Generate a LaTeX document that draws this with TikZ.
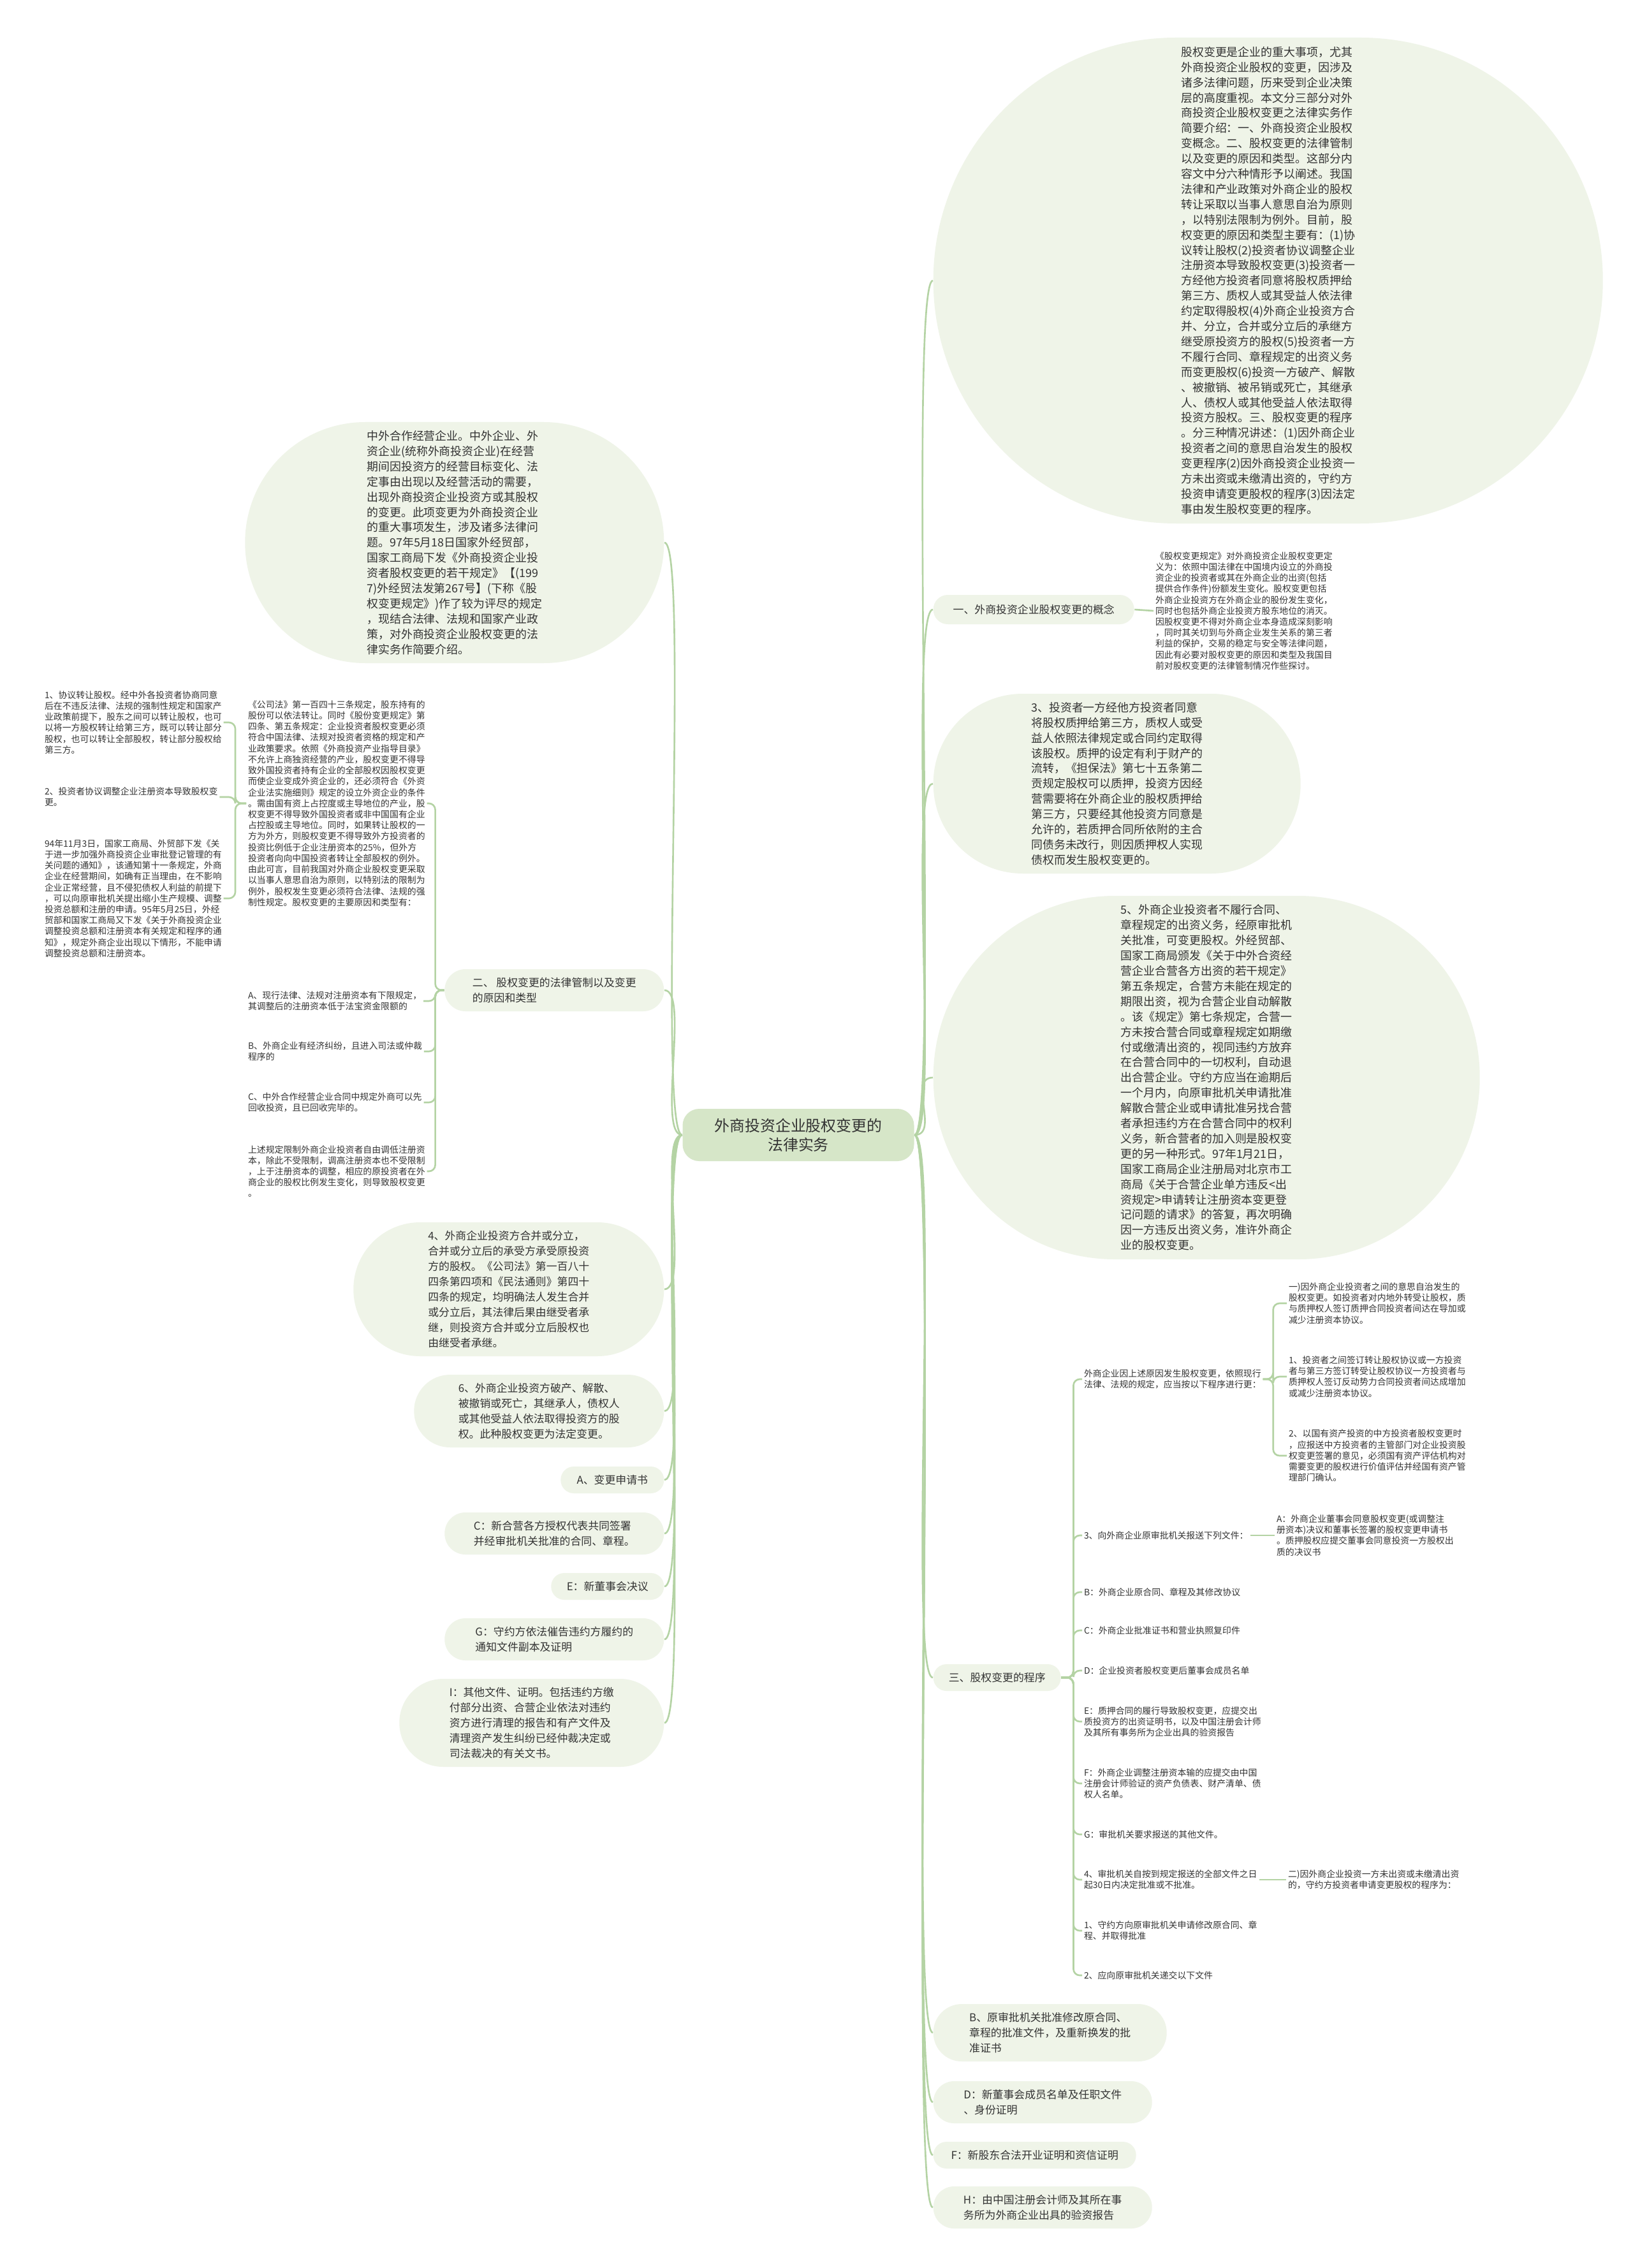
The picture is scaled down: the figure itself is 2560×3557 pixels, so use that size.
\documentclass[tikz,border=0pt]{standalone}
\usepackage{fontspec}
\setmainfont{Noto Sans CJK SC}
\usepackage{tikz}
\definecolor{bubfill}{HTML}{EFF4E8}
\definecolor{cenfill}{HTML}{D6E6C8}
\definecolor{linkc}{HTML}{B4D3A4}
\definecolor{txt}{HTML}{333333}
\pgfdeclarelayer{bg}
\pgfsetlayers{bg,main}

\begin{document}
\begin{tikzpicture}[x=0.1mm, y=-0.1mm,
        bub/.style 2 args={rectangle, fill=bubfill, text=txt, align=left, inner sep=0.5mm,
            minimum width=#1*0.1mm, minimum height=#2*0.1mm, rounded corners=#2*0.05mm-0.03mm,
            font=\fontsize{4.8pt}{6.8pt}\selectfont},
        bigbub/.style 2 args={bub={#1}{#2}, font=\fontsize{5.1pt}{6.8pt}\selectfont},
        note/.style={text=txt, align=left, inner sep=0pt, outer xsep=0.3mm,
            font=\fontsize{3.95pt}{4.9pt}\selectfont},
        link/.style={draw=linkc, line width=0.75pt}]
                \node[rectangle, rounded corners=2.6mm, fill=cenfill, text=txt, align=center,
                    minimum width=36.3mm, minimum height=8.2mm,
                    font=\fontsize{6.8pt}{8.6pt}\selectfont] (cen) at (1252,1780) {外商投资企业股权变更的\\法律实务};

                \node[bigbub={1050}{762}, anchor=west] (intro) at (1463,440) {股权变更是企业的重大事项，尤其\\外商投资企业股权的变更，因涉及\\诸多法律问题，历来受到企业决策\\层的高度重视。本文分三部分对外\\商投资企业股权变更之法律实务作\\简要介绍：一、外商投资企业股权\\变概念。二、股权变更的法律管制\\以及变更的原因和类型。这部分内\\容文中分六种情形予以阐述。我国\\法律和产业政策对外商企业的股权\\转让采取以当事人意思自治为原则\\，以特别法限制为例外。目前，股\\权变更的原因和类型主要有：(1)协\\议转让股权(2)投资者协议调整企业\\注册资本导致股权变更(3)投资者一\\方经他方投资者同意将股权质押给\\第三方、质权人或其受益人依法律\\约定取得股权(4)外商企业投资方合\\并、分立，合并或分立后的承继方\\继受原投资方的股权(5)投资者一方\\不履行合同、章程规定的出资义务\\而变更股权(6)投资一方破产、解散\\、被撤销、被吊销或死亡，其继承\\人、债权人或其他受益人依法取得\\投资方股权。三、股权变更的程序\\。分三种情况讲述：(1)因外商企业\\投资者之间的意思自治发生的股权\\变更程序(2)因外商投资企业投资一\\方未出资或未缴清出资的，守约方\\投资申请变更股权的程序(3)因法定\\事由发生股权变更的程序。};
                \node[bub={315}{46}, anchor=west] (b1) at (1463,956) {一、外商投资企业股权变更的概念};
                \node[note, anchor=west] (b1n) at (1809,958) {《股权变更规定》对外商投资企业股权变更定\\义为：依照中国法律在中国境内设立的外商投\\资企业的投资者或其在外商企业的出资(包括\\提供合作条件)份额发生变化。股权变更包括\\外商企业投资方在外商企业的股份发生变化，\\同时也包括外商企业投资方股东地位的消灭。\\因股权变更不得对外商企业本身造成深刻影响\\，同时其关切到与外商企业发生关系的第三者\\利益的保护，交易的稳定与安全等法律问题，\\因此有必要对股权变更的原因和类型及我国目\\前对股权变更的法律管制情况作些探讨。};
                \node[bigbub={576}{282}, anchor=west] (b3) at (1463,1229) {3、投资者一方经他方投资者同意\\将股权质押给第三方，质权人或受\\益人依照法律规定或合同约定取得\\该股权。质押的设定有利于财产的\\流转，《担保法》第七十五条第二\\贡规定股权可以质押，投资方因经\\营需要将在外商企业的股权质押给\\第三方，只要经其他投资方同意是\\允许的，若质押合同所依附的主合\\同债务未改行，则因质押权人实现\\债权而发生股权变更的。};
                \node[bigbub={857}{570}, anchor=west] (b5) at (1463,1690) {5、外商企业投资者不履行合同、\\章程规定的出资义务，经原审批机\\关批准，可变更股权。外经贸部、\\国家工商局颁发《关于中外合资经\\营企业合营各方出资的若干规定》\\第五条规定，合营方未能在规定的\\期限出资，视为合营企业自动解散\\。该《规定》第七条规定，合营一\\方未按合营合同或章程规定如期缴\\付或缴清出资的，视同违约方放弃\\在合营合同中的一切权利，自动退\\出合营企业。守约方应当在逾期后\\一个月内，向原审批机关申请批准\\解散合营企业或申请批准另找合营\\者承担违约方在合营合同中的权利\\义务，新合营者的加入则是股权变\\更的另一种形式。97年1月21日，\\国家工商局企业注册局对北京市工\\商局《关于合营企业单方违反<出\\资规定>申请转让注册资本变更登\\记问题的请求》的答复，再次明确\\因一方违反出资义务，准许外商企\\业的股权变更。};
                \node[bub={200}{42}, anchor=west] (s3) at (1463,2631) {三、股权变更的程序};
                \node[bub={366}{90}, anchor=west] (nb) at (1463,3188) {B、原审批机关批准修改原合同、\\章程的批准文件，及重新换发的批\\准证书};
                \node[bub={343}{66}, anchor=west] (nd) at (1463,3297) {D：新董事会成员名单及任职文件\\、身份证明};
                \node[bub={318}{42}, anchor=west] (nf) at (1463,3380) {F：新股东合法开业证明和资信证明};
                \node[bub={343}{66}, anchor=west] (nh) at (1463,3462) {H：由中国注册会计师及其所在事\\务所为外商企业出具的验资报告};

                \node[bigbub={657}{378}, anchor=east] (pre) at (1042,851) {中外合作经营企业。中外企业、外\\资企业(统称外商投资企业)在经营\\期间因投资方的经营目标变化、法\\定事由出现以及经营活动的需要，\\出现外商投资企业投资方或其股权\\的变更。此项变更为外商投资企业\\的重大事项发生，涉及诸多法律问\\题。97年5月18日国家外经贸部，\\国家工商局下发《外商投资企业投\\资者股权变更的若干规定》【(199\\7)外经贸法发第267号】(下称《股\\权变更规定》)作了较为评尽的规定\\，现结合法律、法规和国家产业政\\策，对外商投资企业股权变更的法\\律实务作简要介绍。};
                \node[bub={344}{66}, anchor=east] (s2) at (1042,1553) {二、 股权变更的法律管制以及变更\\的原因和类型};
                \node[bub={487}{210}, anchor=east] (n4) at (1042,2022) {4、外商企业投资方合并或分立，\\合并或分立后的承受方承受原投资\\方的股权。《公司法》第一百八十\\四条第四项和《民法通则》第四十\\四条的规定，均明确法人发生合并\\或分立后，其法律后果由继受者承\\继，则投资方合并或分立后股权也\\由继受者承继。};
                \node[bub={392}{114}, anchor=east] (n6) at (1042,2213) {6、外商企业投资方破产、解散、\\被撤销或死亡，其继承人，债权人\\或其他受益人依法取得投资方的股\\权。此种股权变更为法定变更。};
                \node[bub={162}{42}, anchor=east] (na) at (1042,2321) {A、变更申请书};
                \node[bub={344}{66}, anchor=east] (nc) at (1042,2405) {C：新合营各方授权代表共同签署\\并经审批机关批准的合同、章程。};
                \node[bub={177}{42}, anchor=east] (ne) at (1042,2488) {E：新董事会决议};
                \node[bub={344}{66}, anchor=east] (ng) at (1042,2571) {G：守约方依法催告违约方履约的\\通知文件副本及证明};
                \node[bub={415}{138}, anchor=east] (ni) at (1042,2702) {I：其他文件、证明。包括违约方缴\\付部分出资、合营企业依法对违约\\资方进行清理的报告和有产文件及\\清理资产发生纠纷已经仲裁决定或\\司法裁决的有关文书。};

                \node[note, anchor=west] (law) at (386,1260) {《公司法》第一百四十三条规定，股东持有的\\股份可以依法转让。同时《股份变更规定》第\\四条、第五条规定：企业投资者股权变更必须\\符合中国法律、法规对投资者资格的规定和产\\业政策要求。依照《外商投资产业指导目录》\\不允许上商独资经营的产业，股权变更不得导\\致外国投资者持有企业的全部股权因股权变更\\而使企业变成外资企业的，还必须符合《外资\\企业法实施细则》规定的设立外资企业的条件\\。需由国有资上占控度或主导地位的产业，股\\权变更不得导致外国投资者或非中国国有企业\\占控股或主导地位。同时，如果转让股权的一\\方为外方，则股权变更不得导致外方投资者的\\投资比例低于企业注册资本的25\%，但外方\\投资者向向中国投资者转让全部股权的例外。\\由此可言，目前我国对外商企业股权变更采取\\以当事人意思自治为原则，以特别法的限制为\\例外，股权发生变更必须符合法律、法规的强\\制性规定。股权变更的主要原因和类型有：};
                \node[note, anchor=west] (k1) at (67,1133) {1、协议转让股权。经中外各投资者协商同意\\后在不违反法律、法规的强制性规定和国家产\\业政策前提下，股东之间可以转让股权，也可\\以将一方股权转让给第三方，既可以转让部分\\股权，也可以转让全部股权，转让部分股权给\\第三方。};
                \node[note, anchor=west] (k2) at (67,1250) {2、投资者协议调整企业注册资本导致股权变\\更。};
                \node[note, anchor=west] (k3) at (67,1409) {94年11月3日，国家工商局、外贸部下发《关\\于进一步加强外商投资企业审批登记管理的有\\关问题的通知》，该通知第十一条规定，外商\\企业在经营期间，如确有正当理由，在不影响\\企业正常经营，且不侵犯债权人利益的前提下\\，可以向原审批机关提出缩小生产规模、调整\\投资总额和注册的申请。95年5月25日，外经\\贸部和国家工商局又下发《关于外商投资企业\\调整投资总额和注册资本有关规定和程序的通\\知》，规定外商企业出现以下情形，不能申请\\调整投资总额和注册资本。};
                \node[note, anchor=west] (ca) at (386,1570) {A、现行法律、法规对注册资本有下限规定，\\其调整后的注册资本低于法宝资金限额的};
                \node[note, anchor=west] (cb) at (386,1649) {B、外商企业有经济纠纷，且进入司法或仲裁\\程序的};
                \node[note, anchor=west] (cc) at (386,1729) {C、中外合作经营企业合同中规定外商可以先\\回收投资，且已回收完毕的。};
                \node[note, anchor=west] (cd) at (386,1837) {上述规定限制外商企业投资者自由调低注册资\\本，除此不受限制，调高注册资本也不受限制\\，上于注册资本的调整，相应的原投资者在外\\商企业的股权比例发生变化，则导致股权变更\\。};

                \node[note, anchor=west] (p1) at (1697,2163) {外商企业因上述原因发生股权变更，依照现行\\法律、法规的规定，应当按以下程序进行更：};
                \node[note, anchor=west] (q1) at (2018,2044) {一)因外商企业投资者之间的意思自治发生的\\股权变更。如投资者对内地外转受让股权，质\\与质押权人签订质押合同投资者间达在导加或\\减少注册资本协议。};
                \node[note, anchor=west] (q2) at (2018,2159) {1、投资者之间签订转让股权协议或一方投资\\者与第三方签订转受让股权协议一方投资者与\\质押权人签订反动势力合同投资者间达成增加\\或减少注册资本协议。};
                \node[note, anchor=west] (q3) at (2018,2283) {2、以国有资产投资的中方投资者股权变更时\\，应报送中方投资者的主管部门对企业投资股\\权变更签署的意见，必须国有资产评估机构对\\需要变更的股权进行价值评估并经国有资产管\\理部门确认。};
                \node[note, anchor=west] (p2) at (1697,2408) {3、向外商企业原审批机关报送下列文件：};
                \node[note, anchor=west] (q4) at (1999,2408) {A：外商企业董事会同意股权变更(或调整注\\册资本)决议和董事长签署的股权变更申请书\\。质押股权应提交董事会同意投资一方股权出\\质的决议书};
                \node[note, anchor=west] (p3) at (1697,2497) {B：外商企业原合同、章程及其修改协议};
                \node[note, anchor=west] (pc) at (1697,2557) {C：外商企业批准证书和营业执照复印件};
                \node[note, anchor=west] (pd) at (1697,2620) {D：企业投资者股权变更后董事会成员名单};
                \node[note, anchor=west] (pe) at (1697,2700) {E：质押合同的履行导致股权变更，应提交出\\质投资方的出资证明书，以及中国注册会计师\\及其所有事务所为企业出具的验资报告};
                \node[note, anchor=west] (pf) at (1697,2797) {F：外商企业调整注册资本输的应提交由中国\\注册会计师验证的资产负债表、财产清单、债\\权人名单。};
                \node[note, anchor=west] (pg) at (1697,2877) {G：审批机关要求报送的其他文件。};
                \node[note, anchor=west] (p4) at (1697,2948) {4、审批机关自按到规定报送的全部文件之日\\起30日内决定批准或不批准。};
                \node[note, anchor=west] (q5) at (2017,2948) {二)因外商企业投资一方未出资或未缴清出资\\的，守约方投资者申请变更股权的程序为：};
                \node[note, anchor=west] (p5) at (1697,3028) {1、守约方向原审批机关申请修改原合同、章\\程、并取得批准};
                \node[note, anchor=west] (p6) at (1697,3098) {2、应向原审批机关递交以下文件};

                \begin{pgfonlayer}{bg}
                \fill[white] (0,0) rectangle (2560,3557);
                \foreach \n in {intro,b1,b3,b5,s3,nb,nd,nf,nh}
                    \draw[link] (cen.east) .. controls +(40,0) and +(-40,0) .. (\n.west);
                \foreach \n in {pre,s2,n4,n6,na,nc,ne,ng,ni}
                    \draw[link] (cen.west) .. controls +(-40,0) and +(40,0) .. (\n.east);
                \draw[link] (b1.east) -- (b1n.west);
                \foreach \n in {law,ca,cb,cc,cd}
                    \draw[link, rounded corners=1mm] (s2.west) -- ++(-14,0) |- (\n.east);
                \foreach \n in {k1,k2,k3}
                    \draw[link, rounded corners=1mm] (law.west) -- ++(-17,0) |- (\n.east);
                \foreach \n in {p1,p2,p3,pc,pd,pe,pf,pg,p4,p5,p6}
                    \draw[link, rounded corners=1mm] (s3.east) -- ++(19,0) |- (\n.west);
                \foreach \n in {q1,q2,q3}
                    \draw[link, rounded corners=1mm] (p1.east) -- ++(16,0) |- (\n.west);
                \draw[link] (p2.east) -- (q4.west);
                \draw[link] (p4.east) -- (q5.west);
                \end{pgfonlayer}
\end{tikzpicture}
\end{document}
